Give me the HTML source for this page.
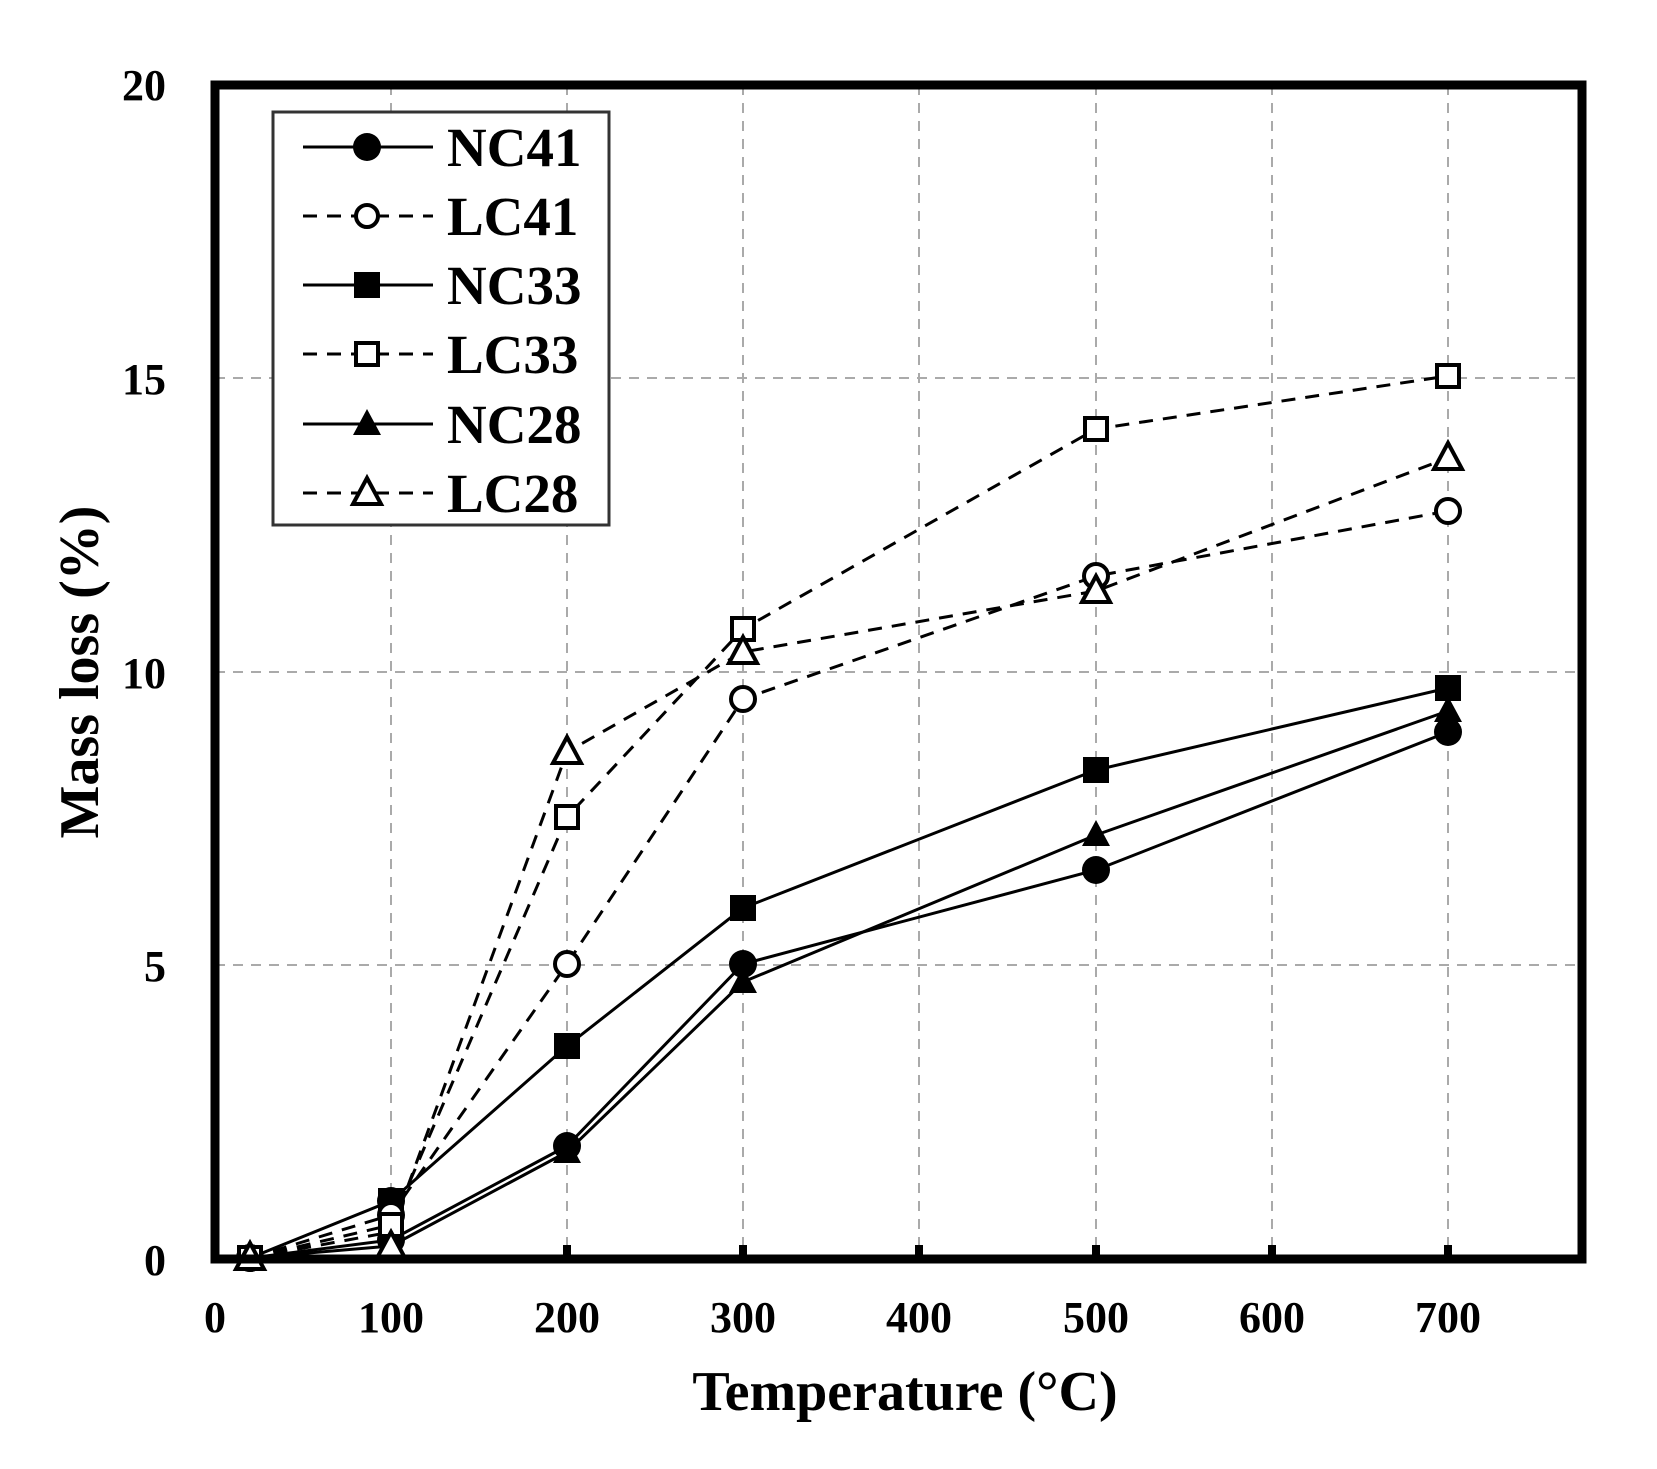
<!DOCTYPE html>
<html><head><meta charset="utf-8"><style>
html,body{margin:0;padding:0;background:#fff}
svg{display:block}
text{font-family:"Liberation Serif",serif;font-weight:bold;fill:#000}
</style></head><body>
<svg width="1657" height="1469" viewBox="0 0 1657 1469" xmlns="http://www.w3.org/2000/svg">
<rect width="1657" height="1469" fill="#fff"/>
<g stroke="#aaa" stroke-width="2" stroke-dasharray="10,8" fill="none">
<line x1="391" y1="85" x2="391" y2="1259"/><line x1="567" y1="85" x2="567" y2="1259"/>
<line x1="743" y1="85" x2="743" y2="1259"/><line x1="919" y1="85" x2="919" y2="1259"/>
<line x1="1096" y1="85" x2="1096" y2="1259"/><line x1="1272" y1="85" x2="1272" y2="1259"/>
<line x1="1448" y1="85" x2="1448" y2="1259"/>
<line x1="215" y1="965" x2="1582" y2="965"/><line x1="215" y1="672" x2="1582" y2="672"/>
<line x1="215" y1="378" x2="1582" y2="378"/>
</g>
<g stroke="#000" stroke-width="8">
<line x1="391" y1="1259" x2="391" y2="1245"/><line x1="567" y1="1259" x2="567" y2="1245"/>
<line x1="743" y1="1259" x2="743" y2="1245"/><line x1="919" y1="1259" x2="919" y2="1245"/>
<line x1="1096" y1="1259" x2="1096" y2="1245"/><line x1="1272" y1="1259" x2="1272" y2="1245"/>
<line x1="1448" y1="1259" x2="1448" y2="1245"/>
</g>
<g fill="none" stroke="#000" stroke-width="3">
<polyline points="250,1258 391,1240 567,1146 743,964 1096,870 1448,732"/>
<polyline points="250,1258 391,1201 567,1046 743,908 1096,770 1448,688"/>
<polyline points="250,1258 391,1246 567,1152 743,982 1096,835 1448,711"/>
</g>
<g fill="none" stroke="#000" stroke-width="3" stroke-dasharray="14,10">
<polyline points="250,1258 391,1215 567,964 743,699 1096,576 1448,511"/>
<polyline points="250,1258 391,1225 567,817 743,629 1096,429 1448,376"/>
<polyline points="250,1258 391,1232 567,752 743,652 1096,591 1448,458"/>
</g>
<g fill="#000">
<circle cx="250" cy="1258" r="14"/><circle cx="391" cy="1240" r="14"/><circle cx="391" cy="1201" r="14"/><circle cx="567" cy="1146" r="14"/><circle cx="743" cy="964" r="14"/><circle cx="1096" cy="870" r="14"/><circle cx="1448" cy="732" r="14"/>
<rect x="237" y="1245" width="26" height="26"/><rect x="378" y="1188" width="26" height="26"/><rect x="554" y="1033" width="26" height="26"/><rect x="730" y="895" width="26" height="26"/><rect x="1083" y="757" width="26" height="26"/><rect x="1435" y="675" width="26" height="26"/>
<polygon points="250,1243 264,1269 236,1269"/><polygon points="391,1237 405,1263 377,1263"/><polygon points="567,1137 581,1163 553,1163"/><polygon points="743,967 757,993 729,993"/><polygon points="1096,820 1110,846 1082,846"/><polygon points="1448,696 1462,722 1434,722"/>
</g>
<g fill="#fff" stroke="#000" stroke-width="4">
<circle cx="250" cy="1258" r="12"/><circle cx="391" cy="1215" r="12"/><circle cx="567" cy="964" r="12"/><circle cx="743" cy="699" r="12"/><circle cx="1096" cy="576" r="12"/><circle cx="1448" cy="511" r="12"/>
<rect x="239" y="1247" width="22" height="22"/><rect x="380" y="1214" width="22" height="22"/><rect x="556" y="806" width="22" height="22"/><rect x="732" y="618" width="22" height="22"/><rect x="1085" y="418" width="22" height="22"/><rect x="1437" y="365" width="22" height="22"/>
<polygon points="250,1243 264,1269 236,1269"/><polygon points="391,1232 405,1258 377,1258"/><polygon points="567,737 581,763 553,763"/><polygon points="743,637 757,663 729,663"/><polygon points="1096,576 1110,602 1082,602"/><polygon points="1448,443 1462,469 1434,469"/>
</g>
<rect x="215" y="85" width="1367" height="1174" fill="none" stroke="#000" stroke-width="9"/>
<rect x="273" y="112" width="336" height="413" fill="#fff" stroke="#333" stroke-width="3"/>
<g stroke="#000" stroke-width="3">
<line x1="303" y1="147" x2="433" y2="147"/>
<line x1="303" y1="216" x2="433" y2="216" stroke-dasharray="14,10"/>
<line x1="303" y1="285" x2="433" y2="285"/>
<line x1="303" y1="354" x2="433" y2="354" stroke-dasharray="14,10"/>
<line x1="303" y1="424" x2="433" y2="424"/>
<line x1="303" y1="493" x2="433" y2="493" stroke-dasharray="14,10"/>
</g>
<circle cx="367" cy="147" r="14" fill="#000"/>
<circle cx="367" cy="216" r="11" fill="#fff" stroke="#000" stroke-width="4"/>
<rect x="354" y="272" width="26" height="26" fill="#000"/>
<rect x="356" y="343" width="22" height="22" fill="#fff" stroke="#000" stroke-width="4"/>
<polygon points="367,409 381,435 353,435" fill="#000"/>
<polygon points="367,478 381,504 353,504" fill="#fff" stroke="#000" stroke-width="4"/>
<g font-size="55">
<text x="447" y="166">NC41</text><text x="447" y="235">LC41</text>
<text x="447" y="304">NC33</text><text x="447" y="373">LC33</text>
<text x="447" y="443">NC28</text><text x="447" y="512">LC28</text>
</g>
<g font-size="44" text-anchor="end">
<text x="166" y="100">20</text><text x="166" y="394">15</text>
<text x="166" y="688">10</text><text x="166" y="981">5</text><text x="166" y="1275">0</text>
</g>
<g font-size="44" text-anchor="middle">
<text x="215" y="1332">0</text><text x="391" y="1332">100</text><text x="567" y="1332">200</text>
<text x="743" y="1332">300</text><text x="919" y="1332">400</text><text x="1096" y="1332">500</text>
<text x="1272" y="1332">600</text><text x="1448" y="1332">700</text>
</g>
<text x="905" y="1410" font-size="56" text-anchor="middle">Temperature (°C)</text>
<text transform="translate(98,672) rotate(-90)" font-size="56" text-anchor="middle">Mass loss (%)</text>
</svg>
</body></html>
